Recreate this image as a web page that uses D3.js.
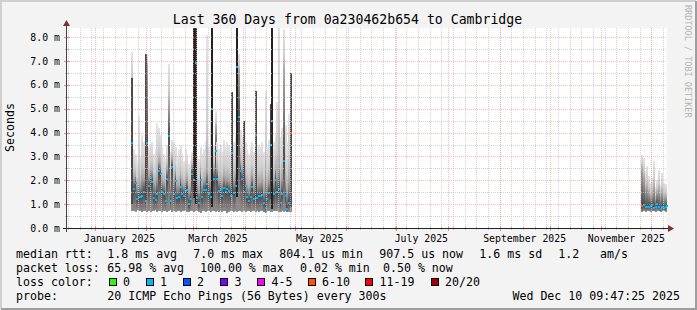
<!DOCTYPE html>
<html>
<head>
<meta charset="utf-8">
<script src="https://cdn.jsdelivr.net/npm/d3@7/dist/d3.min.js"></script>
<style>
  html, body { margin: 0; padding: 0; background: #f3f3f3; }
  svg { display: block; font-family: "DejaVu Sans Mono", monospace; }
</style>
</head>
<body>
<svg id="chart" width="697" height="310"></svg>
<script>
// winter / spring block, one value per day starting 2025-01-23 (rtt in ms)
const springStart = '2025-01-23';
const springMedian = [
  3.57, 1.62, 1.89, 1.22, 1.28, 1.30, 1.33, 1.53, 1.14, 3.57,
  1.75, 2.08, 1.94, 1.26, 1.17, 1.43, 2.38, 2.28, 1.50, 1.42,
  1.14, 2.04, 3.88, 1.14, 2.56, 1.44, 1.97, 1.24, 1.28, 1.72,
  1.44, 1.35, 1.55, 1.61, 0.99, 1.22, 2.28, 2.03, 6.93, 1.24,
  1.03, 2.03, 1.28, 1.58, 1.61, 1.86, 1.44, 1.31, 5.00, 2.07,
  3.25, 2.07, 1.55, 1.64, 1.33, 1.67, 1.50, 1.64, 1.54, 1.33,
  3.14, 1.45, 1.75, 6.75, 4.64, 2.39, 2.06, 1.51, 1.75, 1.28,
  1.14, 1.30, 1.72, 1.22, 3.89, 1.24, 1.35, 1.35, 1.39, 1.03,
  0.82, 1.20, 1.47, 3.50, 4.50, 1.42, 2.03, 1.51, 1.65, 1.03,
  1.44, 2.83, 1.33, 0.80, 1.05, 3.97
];
const springUpper = [
  6.0, 2.1, 2.2, 1.8, 1.9, 1.8, 2.1, 2.1, 2.0, 6.8,
  2.2, 2.5, 2.4, 1.9, 1.8, 2.1, 2.8, 2.7, 2.0, 1.9,
  1.7, 2.5, 5.2, 1.8, 2.9, 2.0, 2.4, 1.8, 1.8, 2.2,
  1.9, 1.8, 2.0, 2.1, 1.6, 1.7, 2.6, 2.5, 7.4, 1.8,
  1.6, 2.4, 1.8, 2.0, 2.1, 2.4, 2.0, 2.0, 6.5, 2.5,
  4.2, 2.5, 2.0, 2.1, 1.9, 2.2, 2.0, 2.1, 2.0, 1.9,
  4.8, 2.0, 2.3, 7.6, 6.6, 2.8, 2.5, 3.8, 2.2, 1.8,
  1.7, 1.9, 2.2, 1.8, 4.9, 1.8, 1.9, 1.9, 2.0, 1.6,
  2.4, 1.8, 2.0, 4.5, 6.0, 2.0, 2.5, 2.2, 2.6, 1.7,
  2.1, 6.6, 2.0, 1.6, 2.0, 5.8
];
const springMax = [
  7.4, 3.3, 3.1, 2.8, 4.7, 3.0, 3.9, 3.6, 4.0, 7.3,
  3.4, 3.5, 3.6, 3.1, 3.3, 4.4, 4.2, 3.9, 3.4, 3.1,
  2.9, 3.5, 6.9, 3.2, 3.7, 3.6, 3.4, 3.0, 3.3, 3.5,
  3.1, 2.8, 3.3, 3.1, 2.7, 2.8, 3.2, 8.4, 8.4, 3.0,
  2.9, 3.4, 3.1, 3.3, 3.6, 8.1, 3.4, 4.9, 8.4, 3.5,
  4.9, 3.6, 3.3, 3.5, 3.2, 3.7, 3.4, 3.6, 3.5, 3.2,
  5.7, 3.6, 3.9, 8.4, 7.3, 4.1, 3.8, 4.5, 3.6, 3.3,
  3.1, 3.4, 3.6, 3.2, 5.75, 3.3, 3.5, 3.4, 3.6, 3.2,
  5.75, 3.4, 3.7, 5.2, 8.4, 3.6, 4.0, 5.3, 8.4, 3.8,
  4.2, 8.35, 4.3, 3.6, 4.8, 6.5
];
const springMin = [
  0.70, 0.72, 0.68, 0.74, 0.70, 0.72, 0.66, 0.70, 0.73, 0.69,
  0.71, 0.68, 0.72, 0.70, 0.74, 0.67, 0.70, 0.72, 0.69, 0.71,
  0.73, 0.68, 0.70, 0.74, 0.66, 0.71, 0.69, 0.73, 0.70, 0.68,
  0.72, 0.70, 0.74, 0.69, 0.67, 0.72, 0.70, 0.68, 0.71, 0.73,
  0.69, 0.62, 0.70, 0.72, 0.66, 0.70, 0.73, 0.68, 0.70, 0.71,
  0.69, 0.72, 0.66, 0.70, 0.68, 0.73, 0.70, 0.62, 0.69, 0.71,
  0.70, 0.68, 0.72, 0.66, 0.70, 0.73, 0.69, 0.71, 0.68, 0.70,
  0.72, 0.67, 0.70, 0.73, 0.69, 0.71, 0.68, 0.70, 0.72, 0.66,
  0.64, 0.70, 0.73, 0.69, 0.68, 0.71, 0.70, 0.72, 0.67, 0.69,
  0.70, 0.68, 0.72, 0.66, 0.69, 0.68
];
const springLoss = [
  1, 1, 1, 1, 1, 1, 1, 1, 1, 1,  1, 1, 1, 1, 1, 1, 1, 1, 1, 1,
  1, 1, 1, 1, 1, 1, 1, 1, 1, 1,  1, 1, 1, 1, 1, 1, 1, 1, 1, 1,
  1, 1, 1, 1, 1, 1, 1, 1, 1, 1,  1, 1, 1, 1, 1, 1, 1, 1, 1, 1,
  1, 1, 1, 1, 1, 1, 1, 1, 1, 1,  1, 1, 1, 1, 1, 1, 1, 1, 1, 1,
  1, 1, 1, 1, 1, 1, 1, 1, 1, 1,  1, 1, 1, 1, 1, 8
];

// late autumn block, one value per day starting 2025-11-25
const autumnStart = '2025-11-25';
const autumnMedian = [0.92, 0.95, 0.90, 0.88, 0.90, 0.93, 0.95, 0.85, 0.90, 1.00, 0.88, 0.78, 0.90, 0.85, 0.90, 0.92];
const autumnUpper  = [2.5, 2.1, 1.6, 1.7, 1.5, 1.3, 1.4, 1.7, 1.2, 1.5, 1.6, 1.3, 1.5, 1.3, 1.3, 1.3];
const autumnMax    = [3.05, 2.95, 2.4, 2.6, 2.2, 1.9, 2.1, 2.8, 1.7, 2.0, 2.45, 1.8, 2.3, 1.9, 1.85, 1.8];
const autumnMin    = [0.68, 0.70, 0.69, 0.72, 0.70, 0.68, 0.71, 0.70, 0.69, 0.72, 0.70, 0.66, 0.70, 0.71, 0.69, 0.70];
const autumnLoss   = [8, 1, 1, 1, 1, 1, 1, 1, 1, 1, 1, 1, 1, 1, 1, 1];

// days where the darkest smoke band spreads far up (near black)
const coreDays = ['2025-03-01', '2025-03-02', '2025-03-12', '2025-03-27', '2025-04-17'];
const coreLow  = [1.25, 1.0, 0.9, 1.3, 0.8];
const coreHigh = [8.4, 8.4, 8.4, 8.4, 8.4];
// days where a dark grey band spreads up
const darkDays = ['2025-01-23', '2025-01-31', '2025-03-24', '2025-03-31', '2025-04-07', '2025-04-16', '2025-04-28'];
const darkLow  = [1.0, 1.1, 1.4, 1.4, 1.3, 1.2, 0.9];
const darkHigh = [6.3, 7.3, 5.7, 4.5, 5.75, 5.2, 6.5];

const lossLabels = ['0', '1', '2', '3', '4-5', '6-10', '11-19', '20/20'];
const lossUpTo   = [0, 1, 2, 3, 5, 10, 19, 20];
const lossColors = ['#26ff00', '#00b8ff', '#0059ff', '#7e00ff', '#ff00ff', '#ff5500', '#ff0000', '#a10000'];

const yTicks = [0, 1, 2, 3, 4, 5, 6, 7, 8];

const graphStart = new Date(Date.UTC(2024, 11, 15, 9, 47, 25));
const graphEnd = new Date(Date.UTC(2025, 11, 10, 9, 47, 25));

const svg = d3.select('#chart');
const pL = 67, pR = 667, pT = 28, pB = 228;

const x = d3.scaleUtc().domain([graphStart, graphEnd]).range([pL, pR]);
const y = d3.scaleLinear().domain([0, 8.39]).range([pB, pT]).clamp(true);

function days(start, n) {
  const t0 = new Date(start + 'T00:00:00Z');
  return d3.range(n).map(i => {
    const a = d3.utcDay.offset(t0, i);
    const b = d3.utcDay.offset(t0, i + 1);
    return [a, b > graphEnd ? graphEnd : b];
  });
}

function rows(start, med, upper, max, min, loss) {
  return days(start, med.length).map((d, i) => ({
    t0: d[0], t1: d[1], med: med[i], upper: Math.max(upper[i], med[i]),
    max: max[i], min: min[i], loss: loss[i]
  }));
}

const data = rows(springStart, springMedian, springUpper, springMax, springMin, springLoss)
  .concat(rows(autumnStart, autumnMedian, autumnUpper, autumnMax, autumnMin, autumnLoss));

function lossColor(l) {
  return lossColors[lossUpTo.findIndex(u => l <= u)];
}

// frame and canvas
svg.append('rect').attr('width', 697).attr('height', 310).attr('fill', '#f3f3f3');
svg.append('path').attr('d', 'M1,309 V1 H696').attr('fill', 'none').attr('stroke', '#cfcfcf').attr('stroke-width', 2);
svg.append('path').attr('d', 'M1,309 H696 V1').attr('fill', 'none').attr('stroke', '#9e9e9e').attr('stroke-width', 2);
svg.append('rect').attr('x', pL).attr('y', pT).attr('width', pR - pL).attr('height', pB - pT).attr('fill', '#fff');

// smoke, one shaded column per day
const defs = svg.append('defs');
const plot = svg.append('g').attr('shape-rendering', 'crispEdges');

data.forEach((d, i) => {
  const y0 = y(d.min), y1 = y(d.max);
  const span = y0 - y1;
  const f = v => Math.max(0, Math.min(1, (y0 - y(v)) / span));
  const fm = f(d.med), fu = Math.max(fm, f(d.upper));
  const g = defs.append('linearGradient').attr('id', 'sm' + i)
    .attr('gradientUnits', 'userSpaceOnUse')
    .attr('x1', 0).attr('x2', 0).attr('y1', y0).attr('y2', y1);
  [[0, '#8e8e8e'], [fm, '#4a4a4a'], [fu, '#a8a8a8'], [fu + (1 - fu) * 0.35, '#cdcdcd'], [1, '#e4e4e4']]
    .forEach(s => g.append('stop').attr('offset', s[0]).attr('stop-color', s[1]));
  plot.append('rect')
    .attr('x', x(d.t0)).attr('width', x(d.t1) - x(d.t0) + 0.4)
    .attr('y', y1).attr('height', span)
    .attr('fill', `url(#sm${i})`);
});

function bands(days, lo, hi, colour, cls) {
  plot.selectAll('rect.' + cls)
    .data(days.map((s, i) => ({ t0: new Date(s + 'T00:00:00Z'), lo: lo[i], hi: hi[i] })))
    .join('rect')
    .attr('class', cls)
    .attr('x', d => x(d.t0))
    .attr('width', d => x(d3.utcDay.offset(d.t0, 1)) - x(d.t0) + 0.4)
    .attr('y', d => y(d.hi))
    .attr('height', d => y(d.lo) - y(d.hi))
    .attr('fill', colour);
}
bands(darkDays, darkLow, darkHigh, '#4a4a4a', 'dark');
bands(coreDays, coreLow, coreHigh, '#222', 'core');

// median, coloured by loss
plot.selectAll('rect.med')
  .data(data)
  .join('rect')
  .attr('class', 'med')
  .attr('x', d => x(d.t0))
  .attr('width', d => Math.max(2, x(d.t1) - x(d.t0) + 0.4))
  .attr('y', d => y(d.med) - 1)
  .attr('height', 2)
  .attr('fill', d => lossColor(d.loss));

// grid on top, dotted as rrdtool does
const grid = svg.append('g').attr('shape-rendering', 'crispEdges').attr('stroke-dasharray', '1,1');
const weeks = d3.utcMonday.range(graphStart, graphEnd);
const months = d3.utcMonth.range(graphStart, graphEnd);
const halfTicks = d3.range(0.5, 8.4, 1);
const px = v => Math.round(v) + 0.5;
grid.selectAll('line.wk').data(weeks).join('line')
  .attr('x1', d => px(x(d))).attr('x2', d => px(x(d)))
  .attr('y1', pT).attr('y2', pB)
  .attr('stroke', '#c4c4c4').attr('stroke-opacity', 0.75);
grid.selectAll('line.hf').data(halfTicks).join('line')
  .attr('x1', pL).attr('x2', pR)
  .attr('y1', d => px(y(d))).attr('y2', d => px(y(d)))
  .attr('stroke', '#c4c4c4').attr('stroke-opacity', 0.75);
grid.selectAll('line.mo').data(months).join('line')
  .attr('x1', d => px(x(d))).attr('x2', d => px(x(d)))
  .attr('y1', pT).attr('y2', pB)
  .attr('stroke', '#ff8080').attr('stroke-opacity', 0.55);
grid.selectAll('line.mj').data(yTicks.slice(1)).join('line')
  .attr('x1', pL).attr('x2', pR)
  .attr('y1', d => px(y(d))).attr('y2', d => px(y(d)))
  .attr('stroke', '#ff8080').attr('stroke-opacity', 0.55);

// axes
const ax = svg.append('g').attr('shape-rendering', 'crispEdges');
ax.selectAll('line.tw').data(weeks).join('line')
  .attr('x1', d => px(x(d))).attr('x2', d => px(x(d)))
  .attr('y1', pB - 1).attr('y2', pB + 2).attr('stroke', '#bdbdbd');
ax.selectAll('line.tm').data(months).join('line')
  .attr('x1', d => px(x(d))).attr('x2', d => px(x(d)))
  .attr('y1', pB - 2).attr('y2', pB + 3).attr('stroke', '#f08a8a');
ax.selectAll('line.th').data(halfTicks).join('line')
  .attr('x1', pL - 2).attr('x2', pL + 2)
  .attr('y1', d => px(y(d))).attr('y2', d => px(y(d))).attr('stroke', '#bdbdbd');
ax.selectAll('line.ty').data(yTicks).join('line')
  .attr('x1', pL - 3).attr('x2', pL + 3)
  .attr('y1', d => px(y(d))).attr('y2', d => px(y(d))).attr('stroke', '#f08a8a');
ax.append('line').attr('x1', pL - 4).attr('x2', pR + 2).attr('y1', pB + 0.5).attr('y2', pB + 0.5)
  .attr('stroke', '#222');
ax.append('line').attr('x1', pL - 0.5).attr('x2', pL - 0.5).attr('y1', pB + 4).attr('y2', pT - 2)
  .attr('stroke', '#444');
svg.append('path').attr('d', `M${pR + 1},${pB - 3} L${pR + 7},${pB + 0.5} L${pR + 1},${pB + 4} Z`).attr('fill', '#7f3131');
svg.append('path').attr('d', `M${pL - 4},${pT - 2} L${pL - 0.5},${pT - 8} L${pL + 3},${pT - 2} Z`).attr('fill', '#7f3131');

// axis labels
const labelMonths = months.filter(m => m.getUTCMonth() % 2 === 0);
svg.selectAll('text.xl').data(labelMonths).join('text')
  .attr('x', d => x(d3.utcDay.offset(d, 15)))
  .attr('y', 242)
  .attr('text-anchor', 'middle')
  .attr('font-size', '9.85px')
  .text(d3.utcFormat('%B %Y'));
svg.selectAll('text.yl').data(yTicks).join('text')
  .attr('x', 60).attr('y', d => y(d) + 3.5)
  .attr('text-anchor', 'end')
  .attr('font-size', '9.85px')
  .text(d => d3.format('.1f')(d) + ' m');
svg.append('text').attr('transform', 'translate(14,127.5) rotate(-90)')
  .attr('text-anchor', 'middle').attr('font-size', '11.6px').text('Seconds');

// title and watermark
svg.append('text').attr('x', 347.5).attr('y', 23.5).attr('text-anchor', 'middle')
  .attr('font-size', '13.2px').text('Last 360 Days from 0a230462b654 to Cambridge');
svg.append('text').attr('transform', 'translate(685,5) rotate(90)')
  .attr('font-size', '8.5px').attr('fill', '#b4b4b4').text('RRDTOOL / TOBI OETIKER');

// legend
const legend = svg.append('g').attr('font-size', '11.6px');
const legendItems = [
  [16, 258, 'median rtt:'], [107.3, 258, '1.8 ms avg'], [193.3, 258, '7.0 ms max'],
  [279.3, 258, '804.1 us min'], [379.3, 258, '907.5 us now'], [479.3, 258, '1.6 ms sd'],
  [558.3, 258, '1.2'], [600, 258, 'am/s'],
  [16, 272, 'packet loss:'], [107.3, 272, '65.98 % avg'], [200, 272, '100.00 % max'],
  [300, 272, '0.02 % min'], [383, 272, '0.50 % now'],
  [16, 286, 'loss color:'],
  [16, 300, 'probe:'], [107.3, 300, '20 ICMP Echo Pings (56 Bytes) every 300s']
];
legend.selectAll('text.it').data(legendItems).join('text')
  .attr('x', d => d[0]).attr('y', d => d[1]).text(d => d[2]);
legend.append('text').attr('x', 680).attr('y', 300).attr('text-anchor', 'end').text('Wed Dec 10 09:47:25 2025');

const boxX = [108.5, 145.5, 182.5, 220, 257, 307.5, 365, 430.5];
const sw = legend.selectAll('g.sw').data(lossLabels).join('g')
  .attr('transform', (d, i) => `translate(${boxX[i]},278)`);
sw.append('rect').attr('x', 0.5).attr('y', 0.5).attr('width', 7).attr('height', 7)
  .attr('fill', (d, i) => lossColors[i]).attr('stroke', '#000').attr('shape-rendering', 'crispEdges');
sw.append('text').attr('x', 14.5).attr('y', 8).text(d => d);
</script>
</body>
</html>
